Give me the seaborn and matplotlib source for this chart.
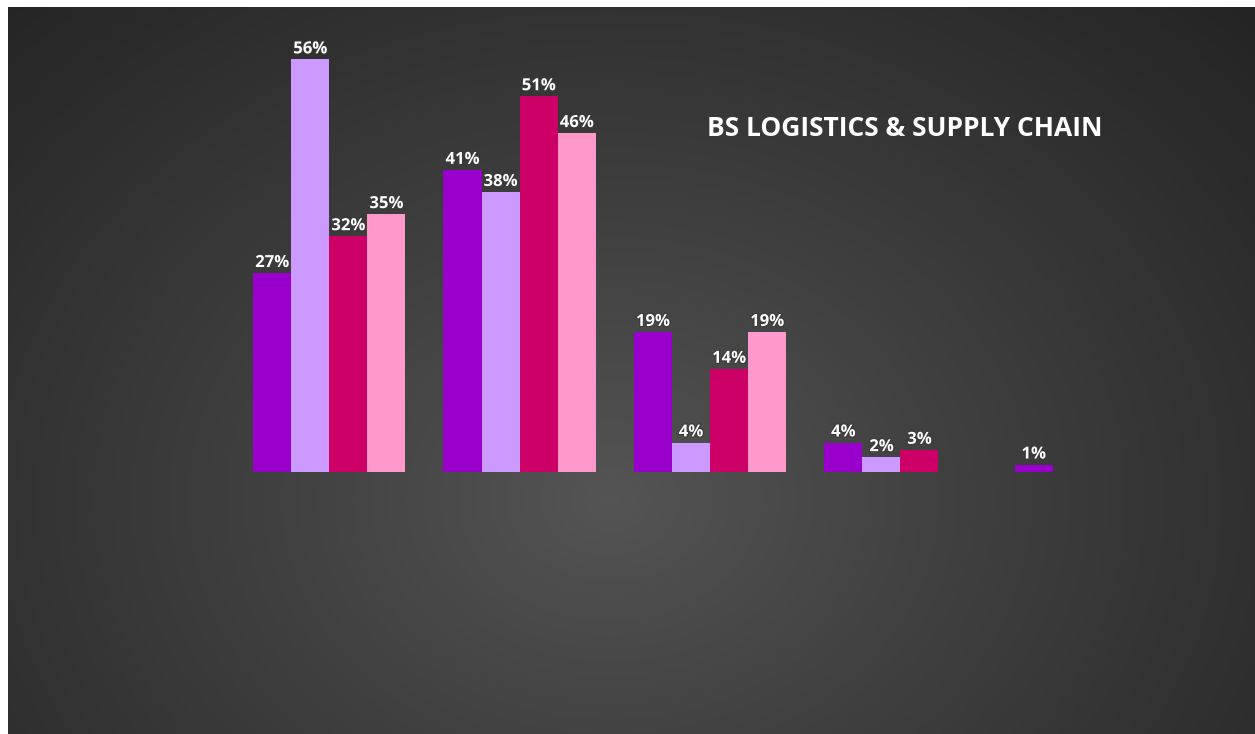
import numpy as np
import pandas as pd
import matplotlib
matplotlib.use("Agg")
import matplotlib.pyplot as plt
import matplotlib.patheffects as pe
import seaborn as sns

categories = ["Group A", "Group B", "Group C", "Group D", "Group E"]
series = ["Series 1", "Series 2", "Series 3", "Series 4"]
values_s1 = [27, 41, 19, 4, 1]
values_s2 = [56, 38, 4, 2, 0]
values_s3 = [32, 51, 14, 3, 0]
values_s4 = [35, 46, 19, 0, 0]
colors = ["#9900CC", "#CC99FF", "#CC0066", "#FF99CC"]
title = "BS LOGISTICS & SUPPLY CHAIN"

rows = []
for s, vals in zip(series, [values_s1, values_s2, values_s3, values_s4]):
    for c, v in zip(categories, vals):
        rows.append({"category": c, "series": s, "value": v})
df = pd.DataFrame(rows)

sns.set_theme(style="white")
plt.rcParams["font.family"] = ["Open Sans", "DejaVu Sans"]

W, H = 1255, 734
fig = plt.figure(figsize=(W / 100, H / 100), dpi=100, facecolor="white")

# background radial gradient (dark area starts at x=8, y=7)
bx0, by0 = 8 / W, 0.0
bg = fig.add_axes([bx0, by0, 1 - bx0, 1 - 7 / H])
bg.set_axis_off()
nx, ny = 400, 240
xs = np.linspace(8, W, nx)
ys = np.linspace(7, H, ny)
X, Y = np.meshgrid(xs, ys)
cx, cy = 610, 500
r = np.sqrt((X - cx) ** 2 + ((Y - cy) * 1.25) ** 2)
r = r / r.max()
c_in, c_out = 0x55, 0x24
g = c_in + (c_out - c_in) * np.clip(r, 0, 1) ** 0.9
img = np.dstack([g, g, g]) / 255.0
bg.imshow(img, aspect="auto", extent=[0, 1, 0, 1], origin="upper", interpolation="bilinear")
bg.set_xlim(0, 1)
bg.set_ylim(0, 1)

# plot axes
left = 234 / W
right = 1186 / W
bottom = 1 - 472 / H
top = 1 - 30 / H
ax = fig.add_axes([left, bottom, right - left, top - bottom])
ax.patch.set_alpha(0)

sns.barplot(data=df, x="category", y="value", hue="series", palette=colors,
            width=0.8, dodge=True, legend=False, ax=ax, edgecolor="none",
            saturation=1)

ax.set_ylim(0, 60)
ax.set_xlim(-0.5, 4.5)
ax.set_axis_off()

for cont, vals in zip(ax.containers, [values_s1, values_s2, values_s3, values_s4]):
    labels = [f"{v}%" if v > 0 else "" for v in vals]
    ax.bar_label(cont, labels=labels, padding=1.5, color="white", fontsize=12,
                 fontweight="bold",
                 path_effects=[pe.withStroke(linewidth=1.5, foreground="#3a3a3a")])

fig.text(707 / W, 1 - 129 / H, title, color="white", fontsize=19, fontweight="bold",
         ha="left", va="center")

fig.savefig("out.png", dpi=100, facecolor="white")
